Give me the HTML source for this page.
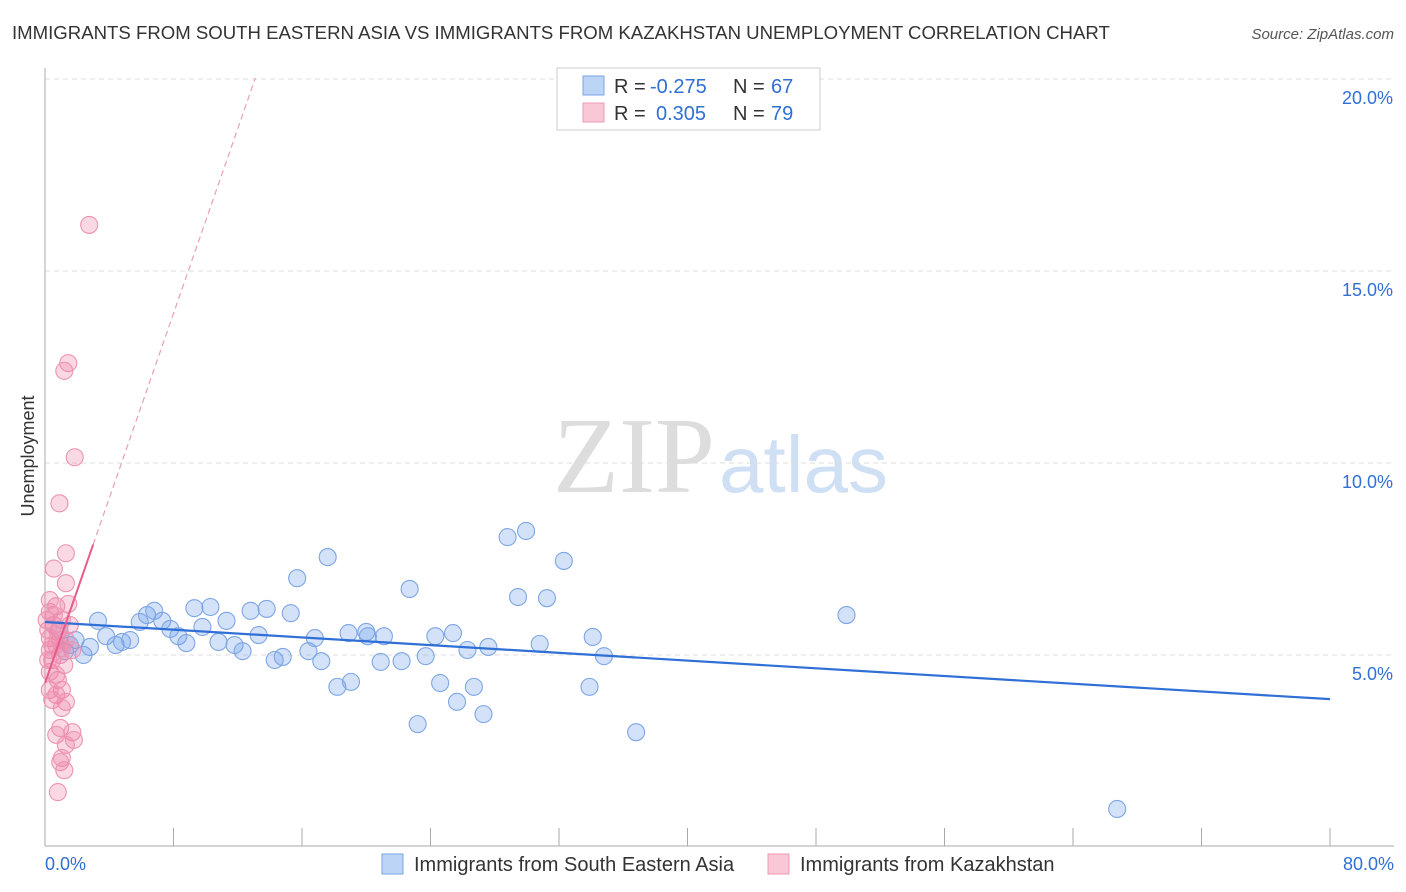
<!DOCTYPE html>
<html><head><meta charset="utf-8"><style>
body{margin:0;background:#fff;font-family:"Liberation Sans",sans-serif;}
#c{position:relative;width:1406px;height:892px;overflow:hidden;}
</style></head><body>
<div id="c">
<svg id="s" width="1406" height="892">
<text x="12" y="39" font-size="18.6" fill="#333">IMMIGRANTS FROM SOUTH EASTERN ASIA VS IMMIGRANTS FROM KAZAKHSTAN UNEMPLOYMENT CORRELATION CHART</text>
<text x="1394" y="39" font-size="15" fill="#555" font-style="italic" text-anchor="end">Source: ZipAtlas.com</text>
<text x="34" y="456" font-size="18" fill="#333" text-anchor="middle" transform="rotate(-90 34 456)">Unemployment</text>
<text x="553" y="492" font-size="108" fill="#ddd" font-family="Liberation Serif,serif">ZIP</text>
<text x="719" y="492" font-size="80" fill="#cfe0f5">atlas</text>
<g id="grid"></g><g id="marks"></g>
<g>
<rect x="557" y="68" width="263" height="62" fill="#fff" stroke="#ccc"/>
<rect x="583" y="76" width="21" height="19" fill="#bcd4f6" stroke="#7aa6e6"/>
<rect x="583" y="103" width="21" height="19" fill="#f9c7d6" stroke="#ee9ab4"/>
<text x="614" y="93" font-size="20" fill="#333">R =</text>
<text x="650" y="93" font-size="20" fill="#2f6fd6">-0.275</text>
<text x="733" y="93" font-size="20" fill="#333">N =</text>
<text x="771" y="93" font-size="20" fill="#2f6fd6">67</text>
<text x="614" y="120" font-size="20" fill="#333">R =</text>
<text x="656" y="120" font-size="20" fill="#2f6fd6">0.305</text>
<text x="733" y="120" font-size="20" fill="#333">N =</text>
<text x="771" y="120" font-size="20" fill="#2f6fd6">79</text>
</g>
<g>
<rect x="382" y="854" width="21" height="20" fill="#bcd4f6" stroke="#7aa6e6"/>
<text x="414" y="871" font-size="20" fill="#333">Immigrants from South Eastern Asia</text>
<rect x="768" y="854" width="21" height="20" fill="#f9c7d6" stroke="#ee9ab4"/>
<text x="800" y="871" font-size="20" fill="#333">Immigrants from Kazakhstan</text>
</g>
</svg></div>
<script>
const yTicks=[5,10,15,20];
const yTickLabels=["5.0%","10.0%","15.0%","20.0%"];
const xTickLabels=["0.0%","80.0%"];
const blueX=[3.3,3.8,4.4,4.8,5.3,5.9,6.35,6.8,7.3,7.8,8.3,8.8,9.3,9.8,10.3,10.8,11.3,11.8,12.3,12.8,13.3,13.8,14.3,14.8,15.3,15.7,16.4,16.8,17.2,17.6,18.2,19.05,18.9,20.0,20.1,20.9,21.1,22.2,22.7,23.2,23.7,24.3,24.6,25.4,25.65,26.3,26.7,27.3,27.6,28.8,29.45,29.95,30.8,31.25,32.3,33.9,34.1,34.8,36.8,49.9,66.75,1.25,1.9,2.4,2.8,0.9,1.55];
const blueY=[5.89,5.49,5.26,5.34,5.39,5.86,6.04,6.15,5.89,5.68,5.49,5.31,6.22,5.73,6.25,5.34,5.89,5.26,5.10,6.15,5.52,6.20,4.87,4.95,6.09,7.0,5.10,5.44,4.84,7.55,4.17,4.30,5.57,5.60,5.49,4.82,5.49,4.84,6.72,3.20,4.97,5.49,4.27,5.57,3.78,5.13,4.17,3.46,5.21,8.07,6.51,8.23,5.29,6.48,7.45,4.17,5.47,4.97,2.99,6.04,0.99,5.10,5.39,5.0,5.21,5.65,5.26];
const pinkX=[2.75,1.45,1.2,1.85,0.9,1.3,0.55,1.3,0.7,1.45,0.3,1.05,0.55,1.55,0.8,0.3,1.3,0.7,1.7,0.95,0.45,1.2,0.3,0.8,1.05,0.3,0.7,1.3,0.45,1.05,0.95,1.7,0.7,1.8,1.3,1.05,0.95,1.2,0.8,0.3,0.55,0.2,0.95,0.45,0.2,0.7,1.05,0.1,0.3];
const pinkY=[16.2,12.6,12.4,10.15,8.95,7.65,7.25,6.87,6.27,6.33,6.12,5.91,5.78,5.78,5.6,5.44,5.39,5.26,5.13,5.0,4.87,4.74,4.56,4.35,4.09,4.09,3.96,3.78,3.83,3.62,3.1,2.99,2.92,2.79,2.66,2.32,2.21,2.0,1.43,5.13,6.04,5.65,5.39,5.26,4.87,4.48,5.18,5.91,6.43];
const blueFit=[5.86,3.85];
const pinkFit=[4.27,1.203];
const X=v=>45+v/80*1285, Y=v=>847-v*38.4;
const NS="http://www.w3.org/2000/svg";
function mk(t,a,p){const e=document.createElementNS(NS,t);for(const k in a)e.setAttribute(k,a[k]);p.appendChild(e);return e;}
const g=document.getElementById('grid'), m=document.getElementById('marks');
yTicks.forEach((t,i)=>{
 const l=mk('line',{x1:45,x2:1394,y1:Y(t),y2:Y(t),stroke:'#ddd','stroke-dasharray':'5,4'},g);
 
 
 const tx=mk('text',{x:1393,y:Y(t)+25,'font-size':18,fill:'#2f6fd6','text-anchor':'end'},g);tx.textContent=yTickLabels[i];
 
 
});
const ax=mk('line',{x1:45,x2:45,y1:68,y2:846,stroke:'#aaa'},g);


const bx=mk('line',{x1:45,x2:1394,y1:846,y2:846,stroke:'#aaa'},g);


for(let i=0;i<=10;i++){const tk=mk('line',{x1:X(i*8),x2:X(i*8),y1:828,y2:846,stroke:'#aaa'},g);
 
 }
[[0,45,'start'],[80,1394,'end']].forEach((d,i)=>{const t=mk('text',{x:d[1],y:870,'font-size':18,fill:'#2f6fd6','text-anchor':d[2]},g);t.textContent=xTickLabels[i];
 
 });
blueX.forEach((x,i)=>{const c=mk('circle',{cx:X(x),cy:Y(blueY[i]),r:8.5,fill:'rgba(110,160,235,0.3)',stroke:'#7ea6e3','stroke-width':1.1},m);
 
 });
pinkX.forEach((x,i)=>{const c=mk('circle',{cx:X(x),cy:Y(pinkY[i]),r:8.5,fill:'rgba(240,130,165,0.3)',stroke:'#ec94b1','stroke-width':1.1},m);
 
 });
const bl=mk('line',{x1:X(0),y1:Y(blueFit[0]),x2:X(80),y2:Y(blueFit[1]),stroke:'#2f6fd6','stroke-width':2.2},m);


const ps=mk('line',{x1:X(0),y1:Y(pinkFit[0]),x2:X(3),y2:Y(pinkFit[0]+pinkFit[1]*3),stroke:'#e85a8a','stroke-width':2},m);


const pd=mk('line',{x1:X(3),y1:Y(pinkFit[0]+pinkFit[1]*3),x2:X(13.1),y2:Y(pinkFit[0]+pinkFit[1]*13.1),stroke:'#e8a0b8','stroke-width':1.2,'stroke-dasharray':'6,4'},m);


</script>
</body></html>
